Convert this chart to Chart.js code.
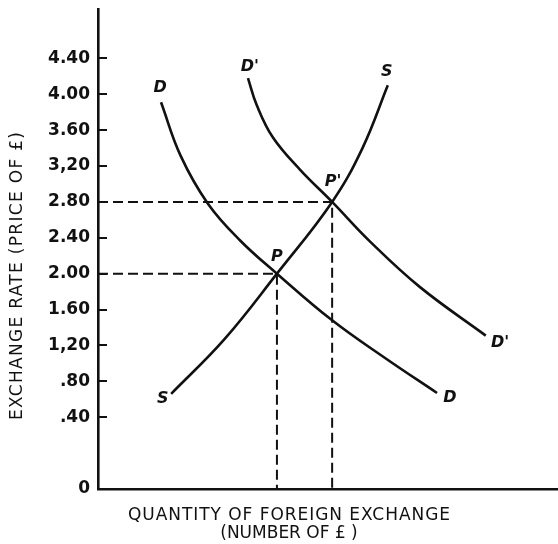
<!DOCTYPE html>
<html>
<head>
<meta charset="utf-8">
<script src="https://cdn.jsdelivr.net/npm/chart.js@4/dist/chart.umd.min.js"></script>
<style>
  html, body { margin: 0; padding: 0; background: #fff; }
  #wrap { width: 558px; height: 544px; position: relative; }
</style>
</head>
<body>
<div id="wrap"><canvas id="c"></canvas></div>
<script>
// Exchange-rate supply/demand diagram. Quantity axis is unitless (0..10),
// exchange rate axis has a break: the "0" label sits one step below .40.

// y tick values and their printed labels (-0.4 is where the "0" is drawn)
const yTickValues = [-0.4, 0.4, 0.8, 1.2, 1.6, 2.0, 2.4, 2.8, 3.2, 3.6, 4.0, 4.4];
const yTickLabels = ['0', '.40', '.80', '1,20', '1.60', '2.00', '2.40', '2.80', '3,20', '3.60', '4.00', '4.40'];

// curves: [quantity, rate]
const demandD = [[1.37, 3.91], [1.80, 3.31], [2.39, 2.78], [3.09, 2.37], [3.89, 2.00],
                 [5.09, 1.48], [6.24, 1.06], [7.37, 0.67]];
const demandD2 = [[3.26, 4.18], [3.45, 3.88], [3.80, 3.52], [4.39, 3.16], [5.09, 2.80],
                  [5.91, 2.36], [7.00, 1.85], [8.43, 1.31]];
const supplyS = [[1.59, 0.66], [2.75, 1.27], [3.89, 2.00], [5.09, 2.80], [5.75, 3.40],
                 [6.30, 4.10]];

// equilibrium points
const pointP = [3.89, 2.00];
const pointP2 = [5.09, 2.80];

// curve / point labels: [text, quantity, rate]
const curveLabels = [
  ['D', 1.35, 4.07], ["D'", 3.30, 4.31], ['S', 6.28, 4.25],
  ["P'", 5.11, 3.02], ['P', 3.89, 2.19],
  ["D'", 8.74, 1.23], ['D', 7.65, 0.62], ['S', 1.41, 0.61],
];

const yTitle = 'EXCHANGE RATE (PRICE OF £)';
const xTitle = ['QUANTITY OF FOREIGN EXCHANGE', '(NUMBER OF £ )'];

const X_MIN = 0, X_MAX = 10, Y_MIN = -0.4, Y_MAX = 4.95;
const INK = '#111';

const toXY = arr => arr.map(p => ({ x: p[0], y: p[1] }));

function curve(data) {
  return {
    data: toXY(data),
    borderColor: INK,
    borderWidth: 2.6,
    pointRadius: 0,
    fill: false,
    tension: 0.4,
  };
}

function dropLine(pt) {
  return {
    data: [{ x: X_MIN, y: pt[1] }, { x: pt[0], y: pt[1] }, { x: pt[0], y: Y_MIN }],
    borderColor: INK,
    borderWidth: 2,
    borderDash: [10, 5],
    pointRadius: 0,
    fill: false,
    tension: 0,
  };
}

// spread text so it covers roughly the width it has in the printed figure
function spacedText(ctx, text, cx, cy, width) {
  ctx.letterSpacing = '0px';
  const w = ctx.measureText(text).width;
  const sp = Math.max(0, (width - w) / (text.length - 1));
  ctx.letterSpacing = sp.toFixed(2) + 'px';
  ctx.fillText(text, cx + sp / 2, cy);
  ctx.letterSpacing = '0px';
}

const textPlugin = {
  id: 'diagramText',
  afterDraw(chart) {
    const { ctx, scales: { x, y } } = chart;
    ctx.save();
    ctx.fillStyle = INK;
    ctx.textAlign = 'center';
    ctx.textBaseline = 'middle';

    ctx.font = 'italic bold 16px "DejaVu Sans"';
    curveLabels.forEach(([t, qx, ry]) => {
      ctx.fillText(t, x.getPixelForValue(qx), y.getPixelForValue(ry));
    });

    ctx.font = '17px "DejaVu Sans"';
    spacedText(ctx, xTitle[0], 289, 516, 322);
    spacedText(ctx, xTitle[1], 289, 534, 132);

    ctx.translate(18, 276);
    ctx.rotate(-Math.PI / 2);
    spacedText(ctx, yTitle, 0, 0, 288);
    ctx.restore();
  },
};

new Chart(document.getElementById('c'), {
  type: 'line',
  data: {
    datasets: [
      dropLine(pointP2),
      dropLine(pointP),
      curve(demandD),
      curve(demandD2),
      curve(supplyS),
    ],
  },
  options: {
    responsive: true,
    maintainAspectRatio: false,
    animation: false,
    layout: { padding: { top: 9, right: 0, bottom: 0, left: 0 } },
    plugins: { legend: { display: false }, tooltip: { enabled: false } },
    scales: {
      x: {
        type: 'linear', min: X_MIN, max: X_MAX,
        grid: { display: false },
        border: { display: true, color: INK, width: 2.6 },
        ticks: { display: false },
        afterFit(s) { s.height = 55; s.paddingLeft = 0; s.paddingRight = 0; },
      },
      y: {
        type: 'linear', min: Y_MIN, max: Y_MAX,
        grid: { display: true, drawOnChartArea: false, drawTicks: true, tickLength: -9, color: INK, lineWidth: 2 },
        border: { display: true, color: INK, width: 2.6 },
        afterBuildTicks(s) { s.ticks = yTickValues.map(v => ({ value: v })); },
        ticks: {
          padding: 17,
          color: INK,
          font: { family: '"DejaVu Sans"', size: 17, weight: 'bold' },
          callback(v) {
            const i = yTickValues.findIndex(t => Math.abs(t - v) < 1e-6);
            return i < 0 ? '' : yTickLabels[i];
          },
        },
        afterFit(s) { s.width = 98; s.paddingTop = 0; s.paddingBottom = 0; },
      },
    },
  },
  plugins: [textPlugin],
});
</script>
</body>
</html>
